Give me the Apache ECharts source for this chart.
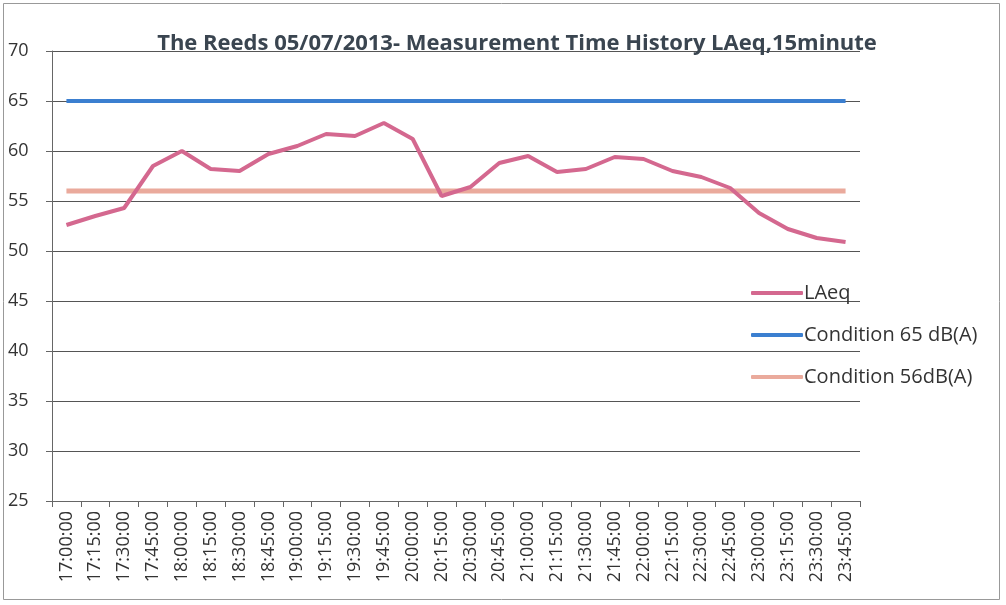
<!DOCTYPE html>
<html>
<head>
<meta charset="utf-8">
<script src="https://cdn.jsdelivr.net/npm/echarts@6/dist/echarts.min.js"></script>
<style>
  html, body { margin: 0; padding: 0; background: #fff; }
  #box { width: 1006px; height: 605px; }
</style>
</head>
<body>
<div id="box"></div>
<script>
// time of each 15 minute period
var times = [
  "17:00:00", "17:15:00", "17:30:00", "17:45:00", "18:00:00", "18:15:00", "18:30:00",
  "18:45:00", "19:00:00", "19:15:00", "19:30:00", "19:45:00", "20:00:00", "20:15:00",
  "20:30:00", "20:45:00", "21:00:00", "21:15:00", "21:30:00", "21:45:00", "22:00:00",
  "22:15:00", "22:30:00", "22:45:00", "23:00:00", "23:15:00", "23:30:00", "23:45:00"
];
// measured LAeq values
var laeq = [
  52.6, 53.5, 54.3, 58.5, 60.0, 58.2, 58.0, 59.7, 60.5, 61.7, 61.5, 62.8, 61.2, 55.5,
  56.4, 58.8, 59.5, 57.9, 58.2, 59.4, 59.2, 58.0, 57.4, 56.3, 53.8, 52.2, 51.3, 50.9
];
// the two limits
var cond65 = times.map(function () { return 65; });
var cond56 = times.map(function () { return 56; });

var font = "'Open Sans', 'Noto Sans', sans-serif";

function drawCharts() {
  var myCharts = echarts.init(document.getElementById("box"));
  var option = {
    backgroundColor: "#fff",
    animation: false,
    title: {
      text: "The Reeds 05/07/2013- Measurement Time History LAeq,15minute",
      left: 512,
      textAlign: "center",
      top: 28,
      textStyle: { fontFamily: font, fontSize: 22, fontWeight: "bold", color: "#3a4550" }
    },
    graphic: [{
      type: "rect",
      shape: { x: 3.5, y: 3.5, width: 996, height: 596 },
      style: { fill: "none", stroke: "#999", lineWidth: 1 },
      silent: true
    }],
    legend: {
      orient: "vertical",
      left: 746,
      top: 278,
      itemWidth: 52,
      itemHeight: 4,
      itemGap: 22,
      icon: "roundRect",
      textStyle: { fontFamily: font, fontSize: 20, color: "#333", padding: [0, 0, 0, -4] },
      data: ["LAeq", "Condition 65 dB(A)", "Condition 56dB(A)"]
    },
    grid: { left: 52, right: 146, top: 51, bottom: 104 },
    xAxis: {
      type: "category",
      boundaryGap: true,
      data: times,
      axisLine: { lineStyle: { color: "#666", width: 1 } },
      axisTick: { show: true, length: 6, lineStyle: { color: "#666" } },
      axisLabel: {
        rotate: 90, interval: 0, margin: 10,
        fontFamily: font, fontSize: 18, color: "#333"
      }
    },
    yAxis: {
      type: "value",
      min: 25, max: 70, interval: 5,
      axisLine: { show: true, lineStyle: { color: "#666", width: 1 } },
      axisTick: { show: true, length: 6, lineStyle: { color: "#666" } },
      splitLine: { lineStyle: { color: "#555", width: 1 } },
      axisLabel: {
        margin: 44, align: "left",
        fontFamily: font, fontSize: 18, color: "#333"
      }
    },
    series: [
      {
        name: "LAeq", type: "line", data: laeq, symbol: "none", z: 4,
        lineStyle: { color: "#d4688f", width: 4 }, itemStyle: { color: "#d4688f" }
      },
      {
        name: "Condition 65 dB(A)", type: "line", data: cond65, symbol: "none", z: 3,
        lineStyle: { color: "#3b7fd0", width: 4 }, itemStyle: { color: "#3b7fd0" }
      },
      {
        name: "Condition 56dB(A)", type: "line", data: cond56, symbol: "none", z: 2,
        lineStyle: { color: "#eaaa9c", width: 5 }, itemStyle: { color: "#eaaa9c" }
      }
    ]
  };
  myCharts.setOption(option);
}

drawCharts();
</script>
</body>
</html>
